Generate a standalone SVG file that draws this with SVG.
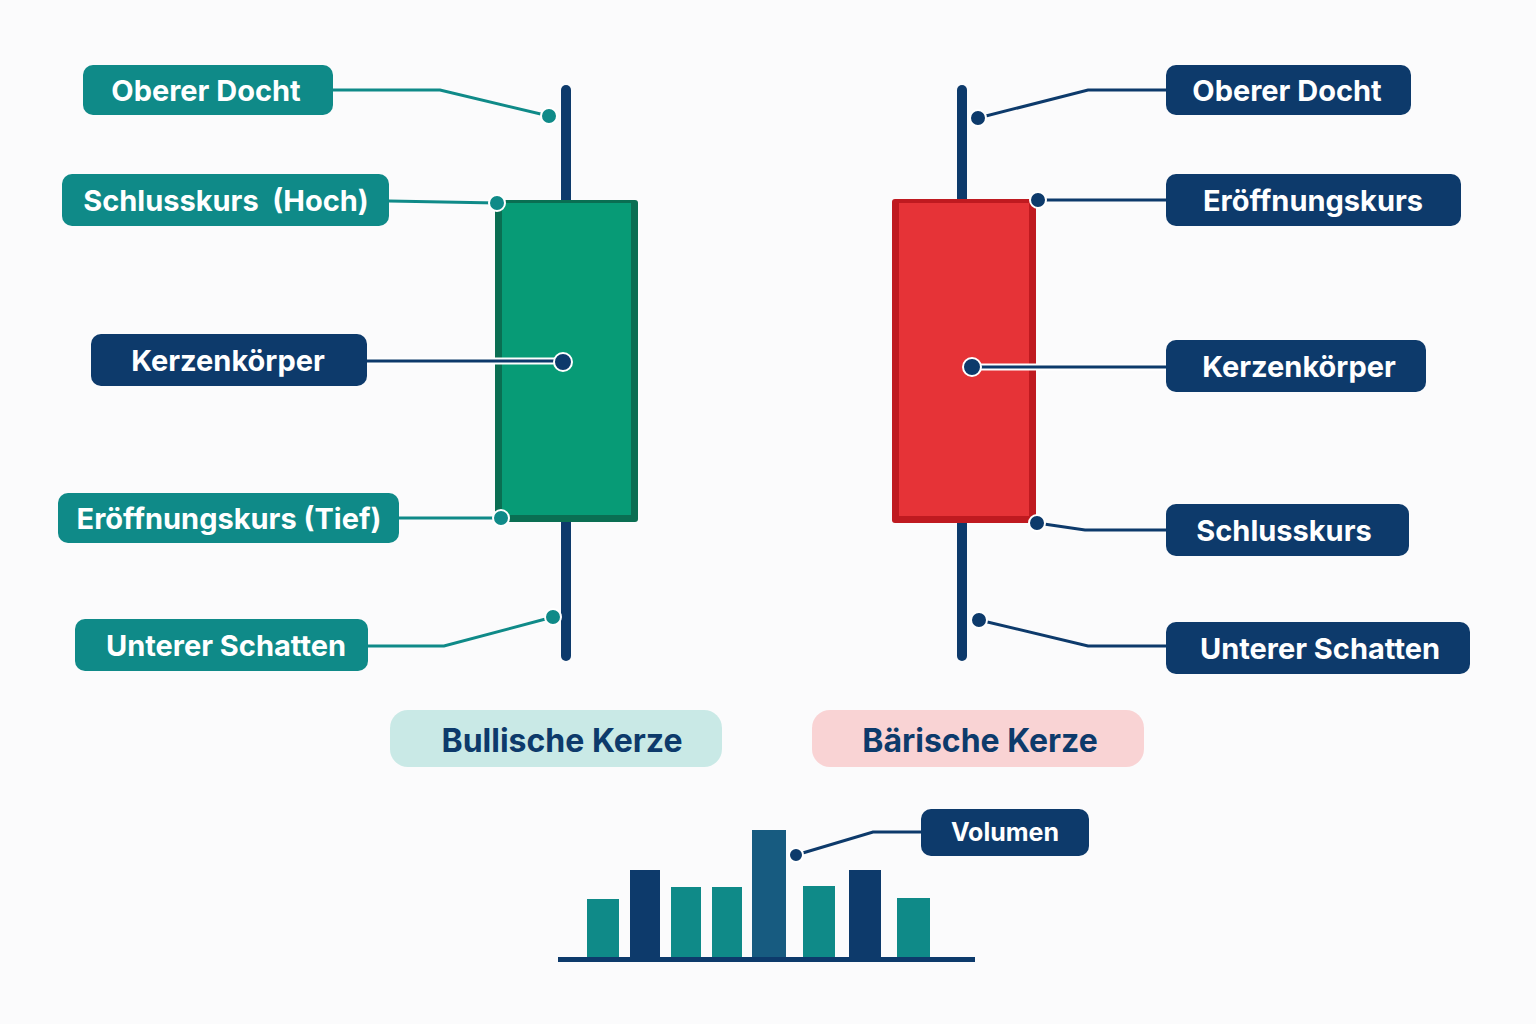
<svg xmlns="http://www.w3.org/2000/svg" width="1536" height="1024" viewBox="0 0 1536 1024">
<style>
.lbl{font-family:Inter,"Open Sans","Liberation Sans",sans-serif;font-weight:700;font-size:29px;fill:#ffffff;text-anchor:middle;dominant-baseline:central}
.cat{font-family:Inter,"Open Sans","Liberation Sans",sans-serif;font-weight:700;font-size:32px;fill:#0d3a6b;text-anchor:middle;dominant-baseline:central}
.teal{fill:#0f8a88}
.navy{fill:#0d3a6b}
.lt{fill:none;stroke:#0f8a88;stroke-width:3}
.ln{fill:none;stroke:#0d3a6b;stroke-width:3}
.dt{fill:#0f8a88;stroke:#ffffff;stroke-width:2}
.dn{fill:#0d3a6b;stroke:#ffffff;stroke-width:2}
.wick{stroke:#0d3a6b;stroke-width:10;stroke-linecap:round}
</style>
<rect width="1536" height="1024" fill="#fbfbfc"/>

<g id="candles">
  <line class="wick" x1="566" y1="90" x2="566" y2="656"/>
  <rect x="495" y="200" width="143" height="322" rx="3" fill="#0a6e52"/>
  <rect x="502" y="203" width="129" height="312" fill="#079b76"/>
  <line class="wick" x1="962" y1="90" x2="962" y2="656"/>
  <rect x="892" y="199" width="144" height="324" rx="3" fill="#bf1a20"/>
  <rect x="899" y="203" width="130" height="313" fill="#e63337"/>
</g>

<g id="connectors">
  <polyline class="lt" points="333,90 440,90 549,116"/>
  <polyline class="lt" points="389,201 497,203"/>
  <line x1="367" y1="361" x2="563" y2="361" stroke="#ffffff" stroke-width="7"/>
  <polyline class="ln" points="367,361 563,361"/>
  <polyline class="lt" points="399,518 501,518"/>
  <polyline class="lt" points="368,646 444,646 553,617"/>

  <polyline class="ln" points="1166,90 1088,90 978,118"/>
  <polyline class="ln" points="1166,200 1038,200"/>
  <line x1="1166" y1="367" x2="972" y2="367" stroke="#ffffff" stroke-width="7"/>
  <polyline class="ln" points="1166,367 972,367"/>
  <polyline class="ln" points="1166,530 1085,530 1037,523"/>
  <polyline class="ln" points="1166,646 1088,646 979,620"/>

  <polyline class="ln" points="921,832 873,832 796,855"/>

  <circle class="dt" cx="549" cy="116" r="8"/>
  <circle class="dt" cx="497" cy="203" r="8"/>
  <circle class="dn" cx="563" cy="362" r="9"/>
  <circle class="dt" cx="501" cy="518" r="8"/>
  <circle class="dt" cx="553" cy="617" r="8"/>

  <circle class="dn" cx="978" cy="118" r="8"/>
  <circle class="dn" cx="1038" cy="200" r="8"/>
  <circle class="dn" cx="972" cy="367" r="9"/>
  <circle class="dn" cx="1037" cy="523" r="8"/>
  <circle class="dn" cx="979" cy="620" r="8"/>
  <circle class="dn" cx="796" cy="855" r="7"/>
</g>

<g id="l-oberer-docht"><rect class="teal" x="83" y="65" width="250" height="50" rx="10"/><text class="lbl" x="206" y="90">Oberer Docht</text></g>
<g id="l-schlusskurs-hoch"><rect class="teal" x="62" y="174" width="327" height="52" rx="10"/><text class="lbl" x="226" y="200" xml:space="preserve">Schlusskurs  (Hoch)</text></g>
<g id="l-kerzenkoerper"><rect class="navy" x="91" y="334" width="276" height="52" rx="10"/><text class="lbl" x="228" y="360">Kerzenkörper</text></g>
<g id="l-eroeffnungskurs-tief"><rect class="teal" x="58" y="493" width="341" height="50" rx="10"/><text class="lbl" x="229" y="518">Eröffnungskurs (Tief)</text></g>
<g id="l-unterer-schatten"><rect class="teal" x="75" y="619" width="293" height="52" rx="10"/><text class="lbl" x="226" y="645">Unterer Schatten</text></g>

<g id="r-oberer-docht"><rect class="navy" x="1166" y="65" width="245" height="50" rx="10"/><text class="lbl" x="1287" y="90">Oberer Docht</text></g>
<g id="r-eroeffnungskurs"><rect class="navy" x="1166" y="174" width="295" height="52" rx="10"/><text class="lbl" x="1313" y="200">Eröffnungskurs</text></g>
<g id="r-kerzenkoerper"><rect class="navy" x="1166" y="340" width="260" height="52" rx="10"/><text class="lbl" x="1299" y="366">Kerzenkörper</text></g>
<g id="r-schlusskurs"><rect class="navy" x="1166" y="504" width="243" height="52" rx="10"/><text class="lbl" x="1284" y="530">Schlusskurs</text></g>
<g id="r-unterer-schatten"><rect class="navy" x="1166" y="622" width="304" height="52" rx="10"/><text class="lbl" x="1320" y="648">Unterer Schatten</text></g>

<g id="bullisch"><rect x="390" y="710" width="332" height="57" rx="18" fill="#c9e9e6"/><text class="cat" x="562" y="740">Bullische Kerze</text></g>
<g id="baerisch"><rect x="812" y="710" width="332" height="57" rx="18" fill="#f9d3d4"/><text class="cat" x="980" y="740">Bärische Kerze</text></g>

<g id="volume">
  <rect x="587" y="899" width="32" height="59" fill="#0f8a88"/>
  <rect x="630" y="870" width="30" height="88" fill="#0d3a6b"/>
  <rect x="671" y="887" width="30" height="71" fill="#0f8a88"/>
  <rect x="712" y="887" width="30" height="71" fill="#0f8a88"/>
  <rect x="752" y="830" width="34" height="128" fill="#175b80"/>
  <rect x="803" y="886" width="32" height="72" fill="#0f8a88"/>
  <rect x="849" y="870" width="32" height="88" fill="#0d3a6b"/>
  <rect x="897" y="898" width="33" height="60" fill="#0f8a88"/>
  <rect x="558" y="957" width="417" height="5" fill="#0d3a6b"/>
</g>

<g id="l-volumen"><rect class="navy" x="921" y="809" width="168" height="47" rx="10"/><text class="lbl" x="1005" y="832" style="font-size:25px">Volumen</text></g>
</svg>
